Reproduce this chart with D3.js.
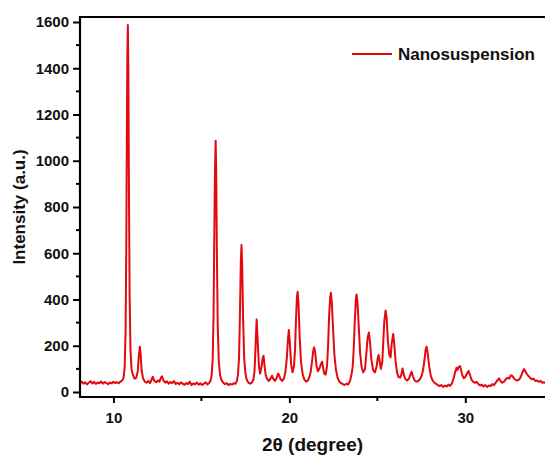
<!DOCTYPE html>
<html>
<head>
<meta charset="utf-8">
<script src="https://cdn.jsdelivr.net/npm/d3@7"></script>
<style>
  body { margin: 0; background: #fff; }
  svg { display: block; font-family: Arial, "Liberation Sans", sans-serif; }
</style>
</head>
<body>
<svg id="chart" width="545" height="457"></svg>
<script>
// XRD scan: [2theta, intensity]
const scan = [
  [8.1, 38], [8.2, 45], [8.3, 36], [8.4, 42], [8.5, 33], [8.6, 40], [8.7, 47], [8.8, 37], [8.9, 44],
  [9.0, 35], [9.1, 41], [9.2, 38], [9.3, 46], [9.4, 36], [9.5, 43], [9.6, 39], [9.7, 34], [9.8, 41],
  [9.9, 37], [10.0, 44], [10.1, 39], [10.2, 42], [10.3, 38], [10.4, 45], [10.5, 50],
  [10.58, 62], [10.64, 110], [10.69, 260], [10.73, 620], [10.76, 1050], [10.79, 1450], [10.82, 1587],
  [10.85, 1380], [10.88, 900], [10.92, 420], [10.97, 180], [11.03, 100], [11.1, 75], [11.2, 58],
  [11.3, 62], [11.38, 90], [11.44, 150], [11.5, 196], [11.55, 160], [11.6, 95], [11.68, 60],
  [11.78, 45], [11.88, 40], [11.98, 48], [12.08, 38], [12.16, 52], [12.24, 66], [12.32, 48],
  [12.42, 42], [12.52, 50], [12.62, 45], [12.7, 62], [12.76, 68], [12.84, 50], [12.94, 40],
  [13.04, 46], [13.14, 36], [13.24, 43], [13.34, 38], [13.44, 47], [13.54, 35], [13.64, 40],
  [13.74, 33], [13.84, 42], [13.94, 36], [14.04, 31], [14.14, 39], [14.24, 34], [14.34, 45],
  [14.44, 30], [14.54, 37], [14.64, 33], [14.74, 41], [14.84, 32], [14.94, 38], [15.04, 30],
  [15.14, 36], [15.24, 42], [15.34, 33], [15.44, 39], [15.52, 48],
  [15.58, 70], [15.64, 140], [15.69, 330], [15.73, 650], [15.77, 950], [15.81, 1087], [15.84, 960],
  [15.88, 600], [15.93, 280], [15.99, 130], [16.06, 75], [16.14, 52], [16.24, 40], [16.34, 34],
  [16.44, 38], [16.54, 30], [16.64, 35], [16.74, 32], [16.84, 38], [16.94, 36], [17.02, 48],
  [17.08, 75], [17.14, 150], [17.19, 330], [17.24, 560], [17.28, 636], [17.32, 540], [17.37, 320],
  [17.43, 150], [17.5, 80], [17.58, 52], [17.68, 40], [17.78, 36], [17.88, 42], [17.96, 55],
  [18.02, 90], [18.08, 200], [18.14, 314], [18.2, 220], [18.27, 110], [18.34, 80], [18.42, 110],
  [18.48, 145], [18.53, 157], [18.58, 120], [18.65, 75], [18.74, 55], [18.84, 48], [18.94, 60],
  [19.02, 70], [19.08, 58], [19.18, 48], [19.28, 62], [19.36, 80], [19.42, 72], [19.5, 55],
  [19.6, 48], [19.7, 60], [19.78, 90],
  [19.86, 150], [19.92, 230], [19.97, 268], [20.02, 220], [20.1, 120], [20.18, 85], [20.26, 110],
  [20.32, 180], [20.38, 320], [20.43, 410], [20.47, 434], [20.52, 380], [20.58, 250], [20.66, 130],
  [20.76, 75], [20.86, 52], [20.96, 45], [21.06, 50], [21.14, 65], [21.22, 90],
  [21.3, 140], [21.36, 180], [21.41, 193], [21.47, 170], [21.54, 115], [21.62, 90], [21.7, 100],
  [21.78, 118], [21.86, 131], [21.92, 105], [21.98, 80], [22.06, 75],
  [22.14, 110], [22.2, 200], [22.26, 330], [22.32, 410], [22.36, 429], [22.41, 390], [22.48, 280],
  [22.56, 160], [22.65, 95], [22.74, 62], [22.84, 45], [22.94, 38], [23.04, 34], [23.14, 30],
  [23.24, 36], [23.34, 32], [23.44, 45], [23.52, 70],
  [23.6, 110], [23.66, 190], [23.72, 310], [23.78, 400], [23.82, 422], [23.87, 390], [23.94, 290],
  [24.02, 170], [24.1, 110], [24.2, 85], [24.3, 100],
  [24.38, 170], [24.45, 235], [24.52, 257], [24.58, 220], [24.66, 140], [24.76, 95], [24.86, 85],
  [24.96, 110], [25.02, 145], [25.07, 160], [25.13, 135], [25.2, 100], [25.28, 130], [25.34, 220],
  [25.4, 310], [25.47, 352], [25.53, 320], [25.6, 220], [25.68, 160], [25.75, 150], [25.82, 210],
  [25.9, 251], [25.96, 210], [26.04, 130], [26.12, 85], [26.2, 65], [26.3, 62], [26.38, 80],
  [26.43, 102], [26.5, 75], [26.6, 55], [26.7, 50], [26.8, 58], [26.88, 75], [26.95, 88],
  [27.02, 68], [27.12, 50], [27.22, 44], [27.32, 48], [27.42, 55], [27.52, 70],
  [27.6, 95], [27.68, 140], [27.75, 185], [27.8, 196], [27.86, 170], [27.94, 115], [28.04, 70],
  [28.14, 50], [28.24, 40], [28.34, 35], [28.44, 30], [28.54, 26], [28.64, 30], [28.74, 22],
  [28.84, 28], [28.94, 24], [29.04, 32], [29.14, 26], [29.24, 38], [29.34, 60],
  [29.42, 85], [29.5, 105], [29.56, 95], [29.62, 108], [29.7, 112], [29.76, 95], [29.84, 70],
  [29.92, 60], [30.0, 65], [30.1, 80], [30.18, 91], [30.26, 75], [30.34, 55], [30.44, 45],
  [30.54, 40], [30.64, 44], [30.74, 35], [30.84, 28], [30.94, 32], [31.04, 24], [31.14, 30],
  [31.24, 22], [31.34, 28], [31.44, 26], [31.54, 34], [31.64, 30], [31.74, 42], [31.84, 52],
  [31.92, 59], [32.0, 48], [32.1, 40], [32.2, 45], [32.3, 55], [32.4, 62], [32.5, 58],
  [32.58, 72], [32.66, 70], [32.74, 62], [32.82, 55], [32.92, 50], [33.02, 52], [33.12, 60],
  [33.2, 75], [33.28, 90], [33.34, 99], [33.4, 92], [33.48, 80], [33.58, 70], [33.68, 62],
  [33.78, 55], [33.88, 58], [33.98, 48], [34.08, 50], [34.18, 44], [34.28, 48], [34.38, 40],
  [34.48, 42], [34.55, 39]
];

const xTicks = [10, 20, 30];
const xMinorTicks = [15, 25];
const yTicks = [0, 200, 400, 600, 800, 1000, 1200, 1400, 1600];
const yMinorTicks = [100, 300, 500, 700, 900, 1100, 1300, 1500];
const seriesName = 'Nanosuspension';
const xTitle = '2θ (degree)';
const yTitle = 'Intensity (a.u.)';

const red = '#e4080f';
const svg = d3.select('#chart');
const margin = { top: 17, left: 80, bottom: 60 };
const plotRight = 548; // frame runs off the right edge, as in the source
const plotBottom = 457 - margin.bottom;

const x = d3.scaleLinear().domain([8.1, 34.53]).range([margin.left, 545]);
const y = d3.scaleLinear().domain([-21.6, 1621.6]).range([plotBottom, margin.top]);

// line
svg.append('path')
    .datum(scan)
    .attr('fill', 'none')
    .attr('stroke', red)
    .attr('stroke-width', 2)
    .attr('stroke-linejoin', 'round')
    .attr('d', d3.line().x(d => x(d[0])).y(d => y(d[1])));

// axes
const xAxis = svg.append('g')
    .attr('transform', `translate(0,${plotBottom})`)
    .call(d3.axisBottom(x).tickValues(xTicks).tickSize(6).tickPadding(9).tickFormat(d3.format('d')));
svg.append('g')
    .attr('transform', `translate(0,${plotBottom})`)
    .selectAll('line')
    .data(xMinorTicks)
    .join('line')
    .attr('x1', d => x(d)).attr('x2', d => x(d))
    .attr('y1', 0).attr('y2', 4)
    .attr('stroke', '#000').attr('stroke-width', 2);

const yAxis = svg.append('g')
    .attr('transform', `translate(${margin.left},0)`)
    .call(d3.axisLeft(y).tickValues(yTicks).tickSize(7).tickPadding(4).tickFormat(d3.format('d')));
svg.append('g')
    .attr('transform', `translate(${margin.left},0)`)
    .selectAll('line')
    .data(yMinorTicks)
    .join('line')
    .attr('x1', 0).attr('x2', -4)
    .attr('y1', d => y(d)).attr('y2', d => y(d))
    .attr('stroke', '#000').attr('stroke-width', 2);

[xAxis, yAxis].forEach(a => {
    a.select('.domain').remove();
    a.selectAll('.tick line').attr('stroke', '#000').attr('stroke-width', 2);
    a.selectAll('.tick text')
        .attr('fill', '#111')
        .style('font-size', '15px')
        .style('font-weight', 'bold');
});

// frame (left, bottom, top; right side is off-canvas)
svg.append('path')
    .attr('d', `M${plotRight},${margin.top}H${margin.left}V${plotBottom}H${plotRight}`)
    .attr('fill', 'none')
    .attr('stroke', '#000')
    .attr('stroke-width', 2.2);

// titles
svg.append('text')
    .attr('x', (margin.left + 545) / 2)
    .attr('y', 451)
    .attr('text-anchor', 'middle')
    .style('font-size', '19px')
    .style('font-weight', 'bold')
    .attr('fill', '#111')
    .text(xTitle);

svg.append('text')
    .attr('transform', `translate(25,${(margin.top + plotBottom) / 2}) rotate(-90)`)
    .attr('text-anchor', 'middle')
    .style('font-size', '17px')
    .style('font-weight', 'bold')
    .attr('fill', '#111')
    .text(yTitle);

// legend
const legend = svg.append('g').attr('transform', 'translate(352,54)');
legend.append('line')
    .attr('x1', 0).attr('x2', 40)
    .attr('stroke', red).attr('stroke-width', 2);
legend.append('text')
    .attr('x', 46).attr('y', 6)
    .style('font-size', '17px')
    .style('font-weight', 'bold')
    .attr('fill', '#111')
    .text(seriesName);
</script>
</body>
</html>
